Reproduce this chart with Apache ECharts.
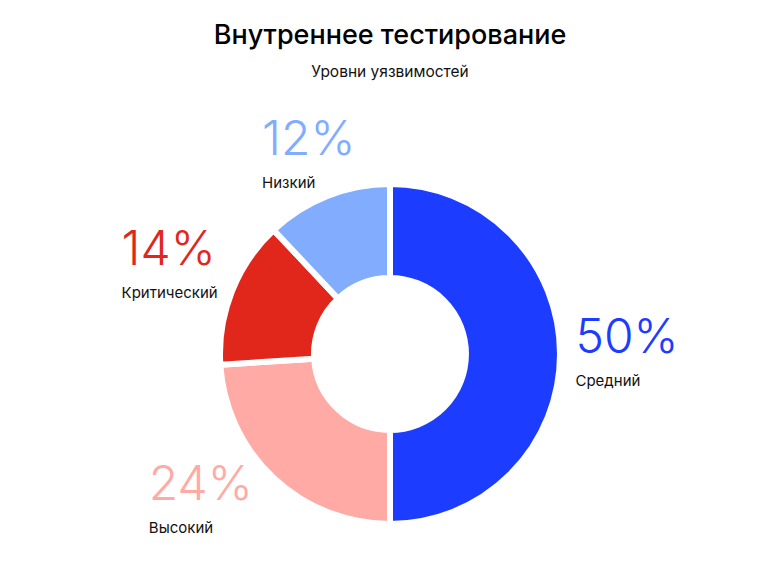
<!DOCTYPE html>
<html>
<head>
<meta charset="utf-8">
<script src="https://cdn.jsdelivr.net/npm/echarts@6/dist/echarts.min.js"></script>
<style>
  html, body { margin: 0; padding: 0; background: #fff; }
  #chart { width: 780px; height: 564px; }
</style>
</head>
<body>
<div id="chart"></div>
<script>
// vulnerability levels, clockwise from 12 o'clock
const levels = ["Средний", "Высокий", "Критический", "Низкий"];
const shares = [50, 24, 14, 12];
const colors = ["#1c3dff", "#ffaaa5", "#e1271c", "#82adff"];

const FONT = "Inter, 'Noto Sans', sans-serif";

const chart = echarts.init(document.getElementById("chart"), null, { renderer: "svg" });

// where each slice's middle sits, in degrees clockwise from the top
const total = shares.reduce((a, b) => a + b, 0);
const midAngles = [];
let acc = 0;
for (const v of shares) {
  midAngles.push((acc + v / 2) / total * 360);
  acc += v;
}

const rich = { n: { fontFamily: FONT, fontSize: 15, color: "#111", align: "left", lineHeight: 26 } };
colors.forEach((c, i) => {
  rich["p" + i] = { fontFamily: FONT, fontSize: 48, fontWeight: 300, color: c, align: "left", lineHeight: 64 };
});

// labels sit on an ellipse around the ring, with small hand nudges
const centerY = 354;
const labelRx = 237, labelRy = 222;
const labelNudge = [[0, -6], [-27, -20], [0, -12], [6, 3]];

chart.setOption({
  backgroundColor: "#fff",
  title: {
    text: "Внутреннее тестирование",
    subtext: "Уровни уязвимостей",
    left: "center",
    top: 16,
    itemGap: 15,
    textStyle: { fontFamily: FONT, fontSize: 27, fontWeight: 500, color: "#000" },
    subtextStyle: { fontFamily: FONT, fontSize: 15.5, color: "#111" }
  },
  series: [{
    type: "pie",
    center: ["50%", centerY],
    radius: [76, 170],
    startAngle: 90,
    clockwise: true,
    avoidLabelOverlap: false,
    itemStyle: { borderColor: "#fff", borderWidth: 6 },
    label: {
      show: true,
      position: "outside",
      formatter: p => "{p" + p.dataIndex + "|" + p.value + "%}\n{n|" + p.name + "}",
      rich: rich
    },
    labelLine: { show: false },
    labelLayout: p => {
      const a = midAngles[p.dataIndex] * Math.PI / 180;
      const nudge = labelNudge[p.dataIndex];
      return {
        x: chart.getWidth() / 2 + Math.sin(a) * labelRx + nudge[0],
        y: centerY - Math.cos(a) * labelRy + nudge[1],
        align: "center",
        verticalAlign: "middle"
      };
    },
    emphasis: { disabled: true },
    data: levels.map((name, i) => ({ name, value: shares[i], itemStyle: { color: colors[i] } }))
  }]
});
</script>
</body>
</html>
